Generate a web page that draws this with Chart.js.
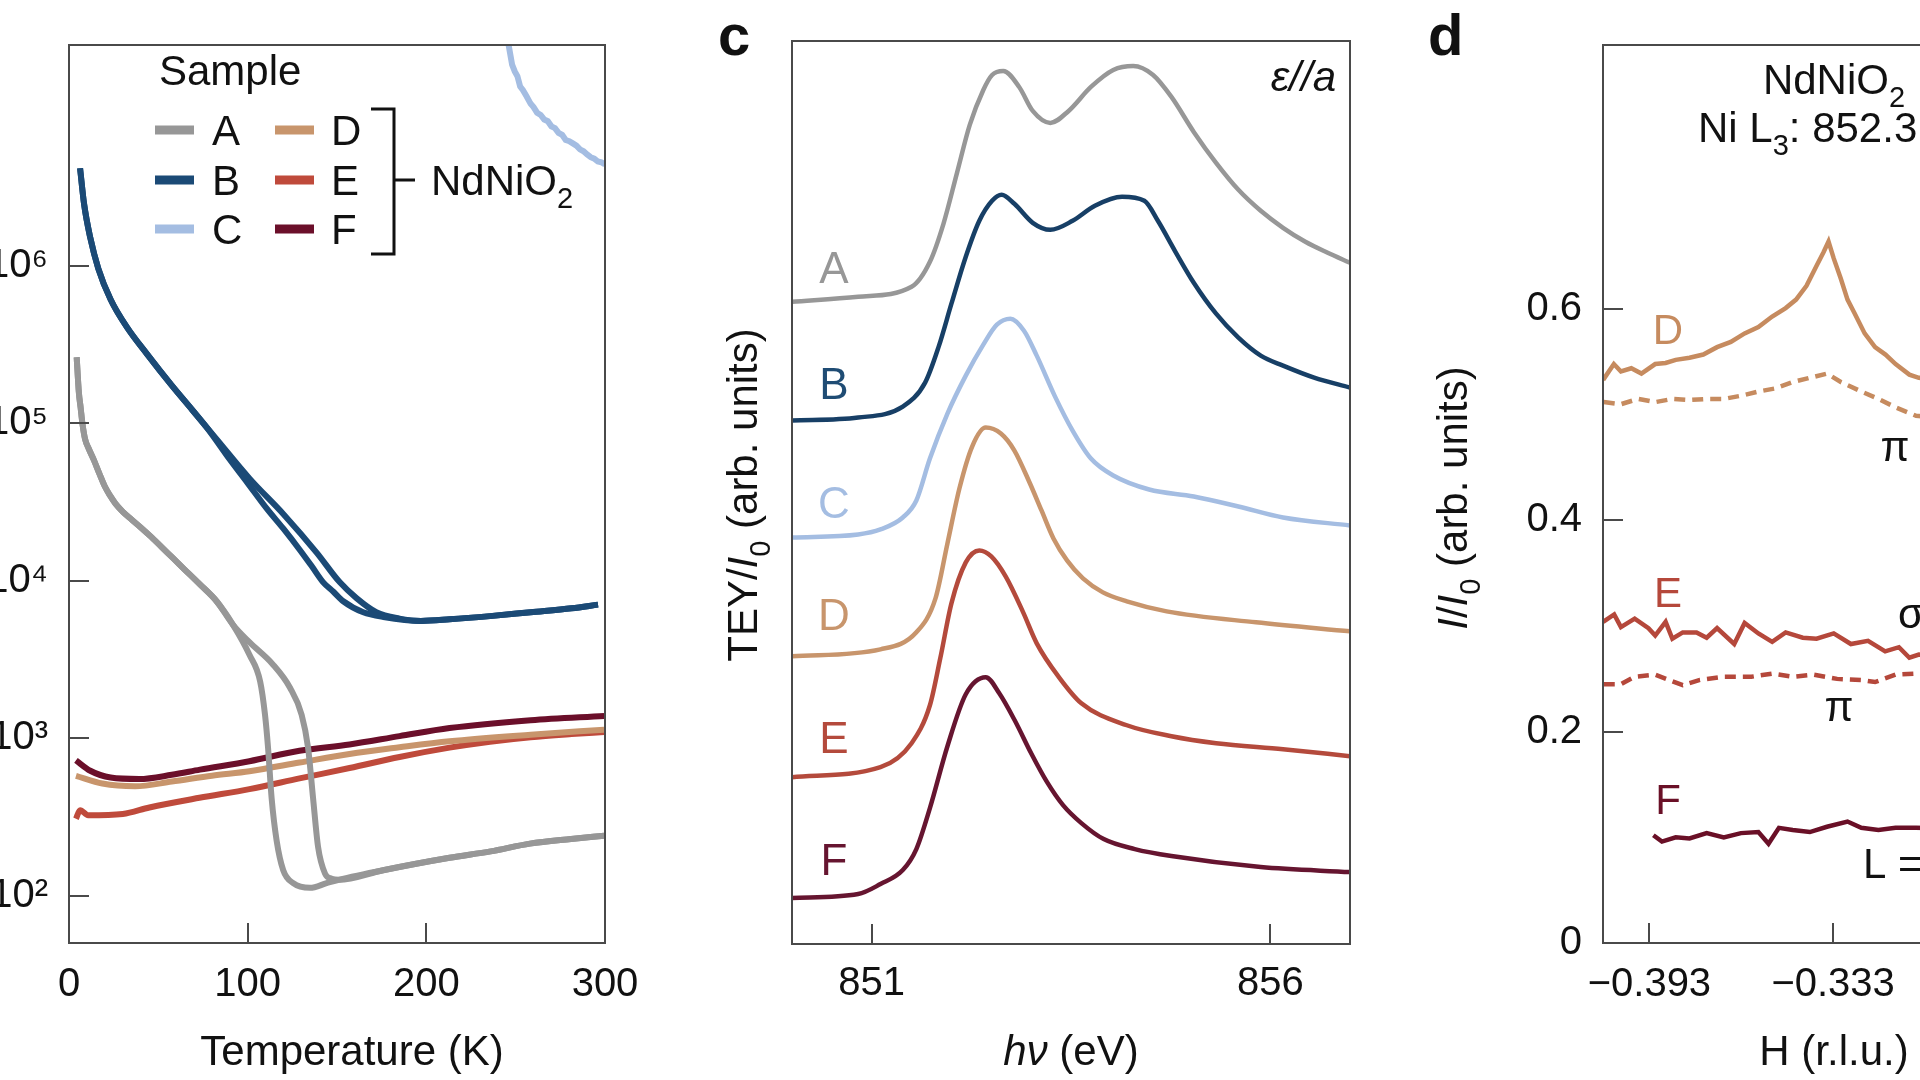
<!DOCTYPE html>
<html>
<head>
<meta charset="utf-8">
<title>NdNiO2 samples: transport, XAS and RXS</title>
<script src="https://cdn.jsdelivr.net/npm/chart.js@4.4.1/dist/chart.umd.min.js"></script>
<style>
  html, body { margin: 0; padding: 0; background: #fff; width: 1920px; height: 1080px; overflow: hidden; }
  .panel { position: absolute; top: 0; height: 1080px; }
  #panelB { left: 0; width: 660px; }
  #panelC { left: 680px; width: 700px; }
  #panelD { left: 1380px; width: 720px; }
</style>
</head>
<body>
<div class="panel" id="panelB"><canvas id="chartB"></canvas></div>
<div class="panel" id="panelC"><canvas id="chartC"></canvas></div>
<div class="panel" id="panelD"><canvas id="chartD"></canvas></div>
<script>
// ---------- panel b: resistance vs temperature (pairs of [T (K), R]) ----------
const tempTicks = [0, 100, 200, 300];
const resTicks = [1e2, 1e3, 1e4, 1e5, 1e6];

const resA_low = [[4.3, 263000], [5.5, 158000], [6.5, 126000], [7.5, 100000], [9, 79400], [11, 69200], [14, 58200],
  [17, 47900], [20, 39800], [23, 34700], [26, 30900], [30, 27500], [35, 24500], [40, 21900], [46, 19000],
  [55, 15100], [64, 12000], [73, 9550], [82.6, 7410], [91.8, 5250]];
const resA_cool = [[101, 3390], [107, 2290], [109.7, 1410], [111.4, 871], [113.4, 417], [116.2, 224], [119.9, 145],
  [125.5, 120], [134.9, 112], [144.2, 120], [151, 126]];
const resA_warm = [[101, 4070], [114, 2950], [123.7, 2090], [130.2, 1410], [133.8, 871], [136.6, 417], [139.4, 204],
  [143.3, 138], [147, 128], [151, 126]];
const resA_high = [[175.8, 145], [213, 174], [236, 191], [258, 214], [281, 229], [299.5, 240]];

const resB_low = [[6.2, 4.17e6], [8.4, 2.49e6], [11.9, 1.51e6], [16.4, 9.62e5], [23.3, 6.11e5], [32.4, 4.08e5],
  [43.8, 2.74e5], [57.5, 1.74e5], [68.9, 1.22e5]];
const resB_cool = [[78, 91200], [90, 58900], [100, 41700], [110.6, 28800], [120, 21400], [129, 15800], [136, 12300],
  [142.3, 9770], [148, 8510], [153.5, 7410], [164.7, 6310], [176, 5890]];
const resB_warm = [[82.6, 7.94e4], [101, 4.47e4], [120.3, 2.63e4], [138.6, 1.51e4], [151.6, 9770], [160.9, 7760],
  [172, 6310], [185, 5750]];
const resB_high = [[197, 5560], [213, 5690], [235.6, 5960], [258.4, 6310], [281.3, 6680], [296.1, 7050]];

const resC = [[244, 3.2e7], [246, 2.55e7], [248, 1.9e7], [249.5, 1.72e7], [251, 1.6e7], [252.5, 1.38e7], [254, 1.31e7],
  [256, 1.2e7], [258.4, 1.07e7], [260, 1.02e7], [262, 9.4e6], [264, 9.1e6], [266, 8.5e6], [268, 8.3e6], [270, 7.7e6],
  [272, 7.5e6], [274, 7.0e6], [276, 6.8e6], [278, 6.3e6], [280, 6.2e6], [282, 6.0e6], [284, 5.8e6], [286, 5.5e6],
  [288, 5.35e6], [290, 5.1e6], [292, 4.9e6], [294, 4.8e6], [296, 4.6e6], [298, 4.55e6], [300, 4.4e6]];

const resD = [[3.9, 577], [18.7, 515], [37, 495], [57.5, 530], [80, 578], [101, 617], [129, 700], [157, 794],
  [185, 875], [213, 955], [258.4, 1052], [299.5, 1133]];
const resE = [[3.9, 308], [6.2, 349], [10.7, 324], [30.1, 330], [45, 363], [73, 418], [101, 475], [129, 555],
  [157, 646], [185, 760], [213, 871], [235.6, 950], [258.4, 1015], [281.3, 1062], [299.5, 1094]];
const resF = [[3.9, 723], [11.9, 621], [23.3, 562], [39.3, 550], [57.5, 585], [73.3, 631], [101, 714], [129, 832],
  [157, 912], [185, 1030], [213, 1159], [258.4, 1300], [299.5, 1384]];

// ---------- panel c: XAS spectra, offset (pairs of [hv (eV), TEY/I0]) ----------
const energyTicks = [851, 856];
const xasA = [[850.0, 6.47], [850.83, 6.52], [851.5, 6.62], [851.73, 6.87], [851.9, 7.25], [852.07, 7.76], [852.23, 8.24],
  [852.4, 8.59], [852.51, 8.74], [852.65, 8.78], [852.85, 8.62], [853.02, 8.38], [853.24, 8.26], [853.47, 8.38],
  [853.75, 8.62], [854.03, 8.79], [854.28, 8.83], [854.53, 8.74], [854.76, 8.52], [855.04, 8.17], [855.32, 7.86],
  [855.6, 7.59], [855.88, 7.38], [856.16, 7.21], [856.44, 7.07], [856.72, 6.96], [857.0, 6.86]];
const xasB = [[850.0, 5.28], [850.83, 5.31], [851.39, 5.42], [851.67, 5.66], [851.84, 6.02], [852.0, 6.45], [852.18, 6.92],
  [852.35, 7.28], [852.51, 7.48], [852.63, 7.54], [852.79, 7.45], [853.02, 7.26], [853.24, 7.19], [853.52, 7.28],
  [853.8, 7.43], [854.14, 7.52], [854.42, 7.48], [854.59, 7.28], [854.81, 6.97], [855.04, 6.66], [855.32, 6.35],
  [855.6, 6.11], [855.88, 5.93], [856.16, 5.83], [856.55, 5.71], [857.0, 5.61]];
const xasC = [[850.0, 4.11], [850.83, 4.14], [851.11, 4.19], [851.39, 4.31], [851.56, 4.48], [851.73, 4.9], [851.95, 5.35],
  [852.18, 5.73], [852.4, 6.04], [852.57, 6.24], [852.74, 6.3], [852.91, 6.18], [853.07, 5.93], [853.3, 5.52],
  [853.52, 5.18], [853.75, 4.9], [854.03, 4.73], [854.48, 4.59], [855.04, 4.52], [855.6, 4.42], [856.16, 4.31],
  [857.0, 4.23]];
const xasD = [[850.0, 2.92], [851.11, 2.99], [851.56, 3.16], [851.8, 3.5], [851.95, 4.05], [852.1, 4.6], [852.26, 5.02],
  [852.43, 5.21], [852.62, 5.15], [852.79, 4.98], [852.98, 4.66], [853.13, 4.38], [853.28, 4.1], [853.45, 3.88],
  [853.65, 3.7], [853.9, 3.56], [854.2, 3.47], [854.7, 3.37], [855.82, 3.26], [857.0, 3.17]];
const xasE = [[850.0, 1.71], [851.11, 1.81], [851.5, 2.05], [851.73, 2.43], [851.86, 2.9], [852.0, 3.45], [852.18, 3.86],
  [852.35, 3.98], [852.5, 3.92], [852.68, 3.72], [852.9, 3.36], [853.07, 3.05], [853.35, 2.71], [853.63, 2.45],
  [854.2, 2.23], [854.76, 2.12], [855.32, 2.05], [856.16, 1.99], [857.0, 1.92]];
const xasF = [[850.0, 0.5], [850.83, 0.54], [851.11, 0.64], [851.39, 0.78], [851.56, 0.99], [851.73, 1.4], [851.95, 2.02],
  [852.18, 2.54], [852.43, 2.71], [852.6, 2.55], [852.8, 2.27], [853.0, 1.95], [853.2, 1.66], [853.4, 1.43],
  [853.63, 1.25], [853.91, 1.09], [854.3, 0.99], [854.76, 0.92], [855.88, 0.81], [857.0, 0.76]];

// ---------- panel d: H scans (pairs of [H (r.l.u.), I/I0]) ----------
const hTicks = [-0.393, -0.333, -0.273];
const intTicks = [0, 0.2, 0.4, 0.6];
const scanD_sigma = [[-0.4081, 0.533], [-0.4046, 0.548], [-0.4023, 0.541], [-0.3989, 0.544], [-0.3956, 0.539],
  [-0.3911, 0.548], [-0.3877, 0.549], [-0.3844, 0.552], [-0.3799, 0.554], [-0.3754, 0.557], [-0.3709, 0.564],
  [-0.3664, 0.569], [-0.3619, 0.577], [-0.3574, 0.583], [-0.3529, 0.593], [-0.3485, 0.601], [-0.3451, 0.609],
  [-0.3417, 0.622], [-0.3384, 0.641], [-0.3361, 0.654], [-0.3345, 0.664], [-0.3328, 0.648], [-0.3305, 0.629],
  [-0.3283, 0.609], [-0.326, 0.596], [-0.3227, 0.577], [-0.3193, 0.564], [-0.3159, 0.557], [-0.3126, 0.548],
  [-0.3081, 0.538], [-0.305, 0.535], [-0.29, 0.53], [-0.258, 0.525]];
const scanD_pi = [[-0.4079, 0.512], [-0.4023, 0.51], [-0.3967, 0.515], [-0.3911, 0.512], [-0.3855, 0.515],
  [-0.3799, 0.514], [-0.3743, 0.515], [-0.3687, 0.515], [-0.3631, 0.518], [-0.3574, 0.522], [-0.3518, 0.525],
  [-0.3462, 0.531], [-0.3406, 0.535], [-0.335, 0.539], [-0.3305, 0.531], [-0.3238, 0.522], [-0.3182, 0.515],
  [-0.3126, 0.507], [-0.3059, 0.499], [-0.29, 0.495], [-0.258, 0.49]];
const scanE_sigma = [[-0.4081, 0.304], [-0.4045, 0.311], [-0.4023, 0.299], [-0.3978, 0.307], [-0.3933, 0.298],
  [-0.3911, 0.291], [-0.3877, 0.304], [-0.3855, 0.288], [-0.3821, 0.294], [-0.3776, 0.294], [-0.3743, 0.289],
  [-0.3709, 0.298], [-0.3653, 0.283], [-0.3619, 0.303], [-0.3574, 0.293], [-0.3529, 0.285], [-0.3485, 0.294],
  [-0.3429, 0.289], [-0.3384, 0.288], [-0.3328, 0.293], [-0.3272, 0.283], [-0.3216, 0.286], [-0.316, 0.276],
  [-0.3115, 0.28], [-0.3081, 0.27], [-0.305, 0.273], [-0.29, 0.27], [-0.258, 0.268]];
const scanE_pi = [[-0.4079, 0.245], [-0.4023, 0.245], [-0.3978, 0.252], [-0.3911, 0.254], [-0.3821, 0.244],
  [-0.3765, 0.249], [-0.3687, 0.252], [-0.3597, 0.252], [-0.3529, 0.255], [-0.3462, 0.252], [-0.3395, 0.254],
  [-0.3317, 0.25], [-0.3238, 0.249], [-0.3193, 0.247], [-0.3126, 0.254], [-0.3059, 0.255], [-0.29, 0.253],
  [-0.258, 0.252]];
const scanF = [[-0.3917, 0.102], [-0.3889, 0.096], [-0.3844, 0.1], [-0.3799, 0.099], [-0.3743, 0.104], [-0.3687, 0.1],
  [-0.3631, 0.104], [-0.3574, 0.105], [-0.3541, 0.094], [-0.3507, 0.109], [-0.3462, 0.107], [-0.3406, 0.105],
  [-0.335, 0.11], [-0.3283, 0.115], [-0.3238, 0.109], [-0.3182, 0.107], [-0.3126, 0.109], [-0.3059, 0.109],
  [-0.29, 0.108], [-0.274, 0.108]];

// ---------- style ----------
const FONT = '"Liberation Sans", Arial, Helvetica, sans-serif';
const INK = '#111111';
const FRAME = '#4a4a4a';
const colA = '#979797', colB = '#1b4a76', colC = '#a4bde2', colD = '#c8956c', colE = '#bf4a3b', colF = '#6b0f2a';
const SUP = { 2: '\u00b2', 3: '\u00b3', 4: '\u2074', 5: '\u2075', 6: '\u2076' };

function pts(pairs) {
  return pairs.map(p => ({ x: p[0], y: p[1] }));
}

function line(label, pairs, color, width, extra) {
  return Object.assign({
    label: label, data: pts(pairs), borderColor: color, borderWidth: width,
    pointRadius: 0, fill: false, clip: 0, cubicInterpolationMode: 'monotone'
  }, extra || {});
}

// text with italic / subscript pieces; y is the middle of the capitals
function drawRich(ctx, parts, x, y, o) {
  const size = o.size || 42;
  parts = parts.map(p => typeof p === 'string' ? { t: p } : p);
  const fontOf = p => (p.i ? 'italic ' : '') + (p.b ? 'bold ' : '') +
    ((p.sub || p.sup) ? Math.round(size * 0.7) : size) + 'px ' + FONT;
  let w = 0;
  parts.forEach(p => { ctx.font = fontOf(p); w += ctx.measureText(p.t).width; });
  ctx.save();
  ctx.translate(x, y);
  if (o.rot) ctx.rotate(o.rot);
  let cx = o.align === 'center' ? -w / 2 : (o.align === 'right' ? -w : 0);
  ctx.fillStyle = o.color || INK;
  ctx.textAlign = 'left';
  ctx.textBaseline = 'alphabetic';
  parts.forEach(p => {
    ctx.font = fontOf(p);
    let dy = size * 0.36;
    if (p.sub) dy += size * 0.3;
    if (p.sup) dy -= size * 0.42;
    ctx.fillText(p.t, cx, dy);
    cx += ctx.measureText(p.t).width;
  });
  ctx.restore();
}

function notesPlugin(items, extra) {
  return {
    id: 'notes',
    afterDraw(chart) {
      const ctx = chart.ctx;
      items.forEach(n => drawRich(ctx, n.parts, n.x, n.y, n));
      if (extra) extra(ctx, chart);
    }
  };
}

// box round the plot and inward tick marks
const framePlugin = {
  id: 'frame',
  afterDatasetsDraw(chart) {
    const { ctx, chartArea: a, scales } = chart;
    ctx.save();
    ctx.strokeStyle = FRAME;
    ctx.lineWidth = 2;
    ctx.strokeRect(a.left, a.top, a.right - a.left, a.bottom - a.top);
    ctx.beginPath();
    scales.x.ticks.forEach(t => {
      const px = Math.round(scales.x.getPixelForValue(t.value));
      ctx.moveTo(px, a.bottom); ctx.lineTo(px, a.bottom - 20);
    });
    if (scales.y.options.ticks.display !== false) {
      scales.y.ticks.forEach(t => {
        const py = Math.round(scales.y.getPixelForValue(t.value));
        ctx.moveTo(a.left, py); ctx.lineTo(a.left + 20, py);
      });
    }
    ctx.stroke();
    ctx.restore();
  }
};

function axis(type, min, max, tickValues, fit, pad, fmt, show) {
  return {
    type: type, min: min, max: max,
    afterBuildTicks: s => { s.ticks = tickValues.map(v => ({ value: v })); },
    afterFit: fit,
    grid: { display: false, drawTicks: false },
    border: { display: false },
    ticks: {
      display: show !== false, padding: pad, color: INK, font: { family: FONT, size: 40 },
      maxRotation: 0, autoSkip: false, callback: fmt
    }
  };
}

function baseOptions(padding, scales) {
  return {
    responsive: true, maintainAspectRatio: false, animation: false, devicePixelRatio: 1,
    layout: { padding: padding },
    plugins: { legend: { display: false }, tooltip: { enabled: false } },
    scales: scales
  };
}

// ---------- panel b ----------
function drawSampleLegend(ctx) {
  drawRich(ctx, ['Sample'], 159, 70, { size: 42 });
  const rows = [130, 180, 229];
  const left = [['A', colA], ['B', colB], ['C', colC]];
  const right = [['D', colD], ['E', colE], ['F', colF]];
  ctx.save();
  ctx.lineWidth = 9;
  rows.forEach((y, i) => {
    ctx.strokeStyle = left[i][1];
    ctx.beginPath(); ctx.moveTo(155, y); ctx.lineTo(194, y); ctx.stroke();
    ctx.strokeStyle = right[i][1];
    ctx.beginPath(); ctx.moveTo(275, y); ctx.lineTo(314, y); ctx.stroke();
    drawRich(ctx, [left[i][0]], 212, y, { size: 42 });
    drawRich(ctx, [right[i][0]], 331, y, { size: 42 });
  });
  ctx.strokeStyle = INK;
  ctx.lineWidth = 3;
  ctx.beginPath();
  ctx.moveTo(371, 109); ctx.lineTo(394, 109); ctx.lineTo(394, 254); ctx.lineTo(371, 254);
  ctx.moveTo(394, 180); ctx.lineTo(415, 180);
  ctx.stroke();
  ctx.restore();
  drawRich(ctx, ['NdNiO', { t: '2', sub: true }], 431, 180, { size: 42 });
}

new Chart(document.getElementById('chartB'), {
  type: 'line',
  data: {
    datasets: [
      line('A', resA_low.concat(resA_cool, resA_high), colA, 6),
      line('A (warming)', resA_low.concat(resA_warm, resA_high), colA, 6),
      line('B', resB_low.concat(resB_cool, resB_high), colB, 6),
      line('B (warming)', resB_low.concat(resB_warm, resB_high), colB, 6),
      line('C', resC, colC, 6, { cubicInterpolationMode: 'default', tension: 0 }),
      line('D', resD, colD, 6),
      line('E', resE, colE, 6),
      line('F', resF, colF, 6)
    ]
  },
  options: baseOptions({ left: 0, top: 41, right: 55, bottom: 0 }, {
    x: axis('linear', 0, 300, tempTicks, s => { s.height = 137; }, 18, v => String(v)),
    y: axis('logarithmic', 50, 2.53e7, resTicks, s => { s.width = 69; }, 21,
      v => '10' + SUP[Math.round(Math.log10(v))])
  }),
  plugins: [framePlugin, notesPlugin([
    { parts: ['Temperature (K)'], x: 352, y: 1050, align: 'center', size: 42 }
  ], drawSampleLegend)]
});

// ---------- panel c ----------
new Chart(document.getElementById('chartC'), {
  type: 'line',
  data: {
    datasets: [
      line('A', xasA, colA, 4.5),
      line('B', xasB, '#173f66', 4.5),
      line('C', xasC, colC, 4.5),
      line('D', xasD, colD, 4.5),
      line('E', xasE, '#b44a3c', 4.5),
      line('F', xasF, '#661530', 4.5)
    ]
  },
  options: baseOptions({ left: 0, top: 41, right: 30, bottom: 0 }, {
    x: axis('linear', 850, 857, energyTicks, s => { s.height = 136; }, 16, v => String(v)),
    y: axis('linear', 0.04, 9.08, [], s => { s.width = 112; }, 0, v => '', false)
  }),
  plugins: [framePlugin, notesPlugin([
    { parts: [{ t: 'c', b: true }], x: 38, y: 34, size: 58 },
    { parts: [{ t: '\u03b5//a', i: true }], x: 656, y: 76, align: 'right', size: 42 },
    { parts: ['A'], x: 154, y: 267, align: 'center', size: 44, color: colA },
    { parts: ['B'], x: 154, y: 383, align: 'center', size: 44, color: '#1f4c74' },
    { parts: ['C'], x: 154, y: 502, align: 'center', size: 44, color: colC },
    { parts: ['D'], x: 154, y: 614, align: 'center', size: 44, color: colD },
    { parts: ['E'], x: 154, y: 737, align: 'center', size: 44, color: '#b44a3c' },
    { parts: ['F'], x: 154, y: 859, align: 'center', size: 44, color: '#661530' },
    { parts: ['TEY/', { t: 'I', i: true }, { t: '0', sub: true }, ' (arb. units)'], x: 62, y: 495,
      align: 'center', rot: -Math.PI / 2, size: 42 },
    { parts: [{ t: 'h\u03bd', i: true }, ' (eV)'], x: 391, y: 1050, align: 'center', size: 42 }
  ])]
});

// ---------- panel d ----------
new Chart(document.getElementById('chartD'), {
  type: 'line',
  data: {
    datasets: [
      line('D \u03c3', scanD_sigma, '#c68b5f', 4.5, { cubicInterpolationMode: 'default', tension: 0 }),
      line('D \u03c0', scanD_pi, '#c68b5f', 4.5, { cubicInterpolationMode: 'default', tension: 0, borderDash: [11, 7] }),
      line('E \u03c3', scanE_sigma, '#b5483b', 4.5, { cubicInterpolationMode: 'default', tension: 0 }),
      line('E \u03c0', scanE_pi, '#b5483b', 4.5, { cubicInterpolationMode: 'default', tension: 0, borderDash: [11, 7] }),
      line('F', scanF, '#6a1027', 4.5, { cubicInterpolationMode: 'default', tension: 0 })
    ]
  },
  options: baseOptions({ left: 0, top: 41, right: 34, bottom: 0 }, {
    x: axis('linear', -0.40815, -0.25785, hTicks, s => { s.height = 137; }, 18,
      v => '\u2212' + Math.abs(v).toFixed(3)),
    y: axis('linear', 0, 0.85, intTicks, s => { s.width = 223; }, 21, v => v === 0 ? '0' : v.toFixed(1))
  }),
  plugins: [framePlugin, notesPlugin([
    { parts: [{ t: 'd', b: true }], x: 48, y: 34, size: 58 },
    { parts: ['NdNiO', { t: '2', sub: true }], x: 454, y: 79, align: 'center', size: 42 },
    { parts: ['Ni L', { t: '3', sub: true }, ': 852.3 eV'], x: 318, y: 127, size: 42 },
    { parts: ['D'], x: 288, y: 329, align: 'center', size: 42, color: '#c68b5f' },
    { parts: ['\u03c0'], x: 515, y: 446, align: 'center', size: 42 },
    { parts: ['E'], x: 288, y: 592, align: 'center', size: 42, color: '#b5483b' },
    { parts: ['\u03c3'], x: 531, y: 613, align: 'center', size: 42 },
    { parts: ['\u03c0'], x: 459, y: 706, align: 'center', size: 42 },
    { parts: ['F'], x: 288, y: 799, align: 'center', size: 42, color: '#6a1027' },
    { parts: ['L ='], x: 483, y: 863, size: 42 },
    { parts: [{ t: 'I', i: true }, '/', { t: 'I', i: true }, { t: '0', sub: true }, ' (arb. units)'], x: 72, y: 498,
      align: 'center', rot: -Math.PI / 2, size: 42 },
    { parts: ['H (r.l.u.)'], x: 454, y: 1050, align: 'center', size: 42 }
  ])]
});
</script>
</body>
</html>
